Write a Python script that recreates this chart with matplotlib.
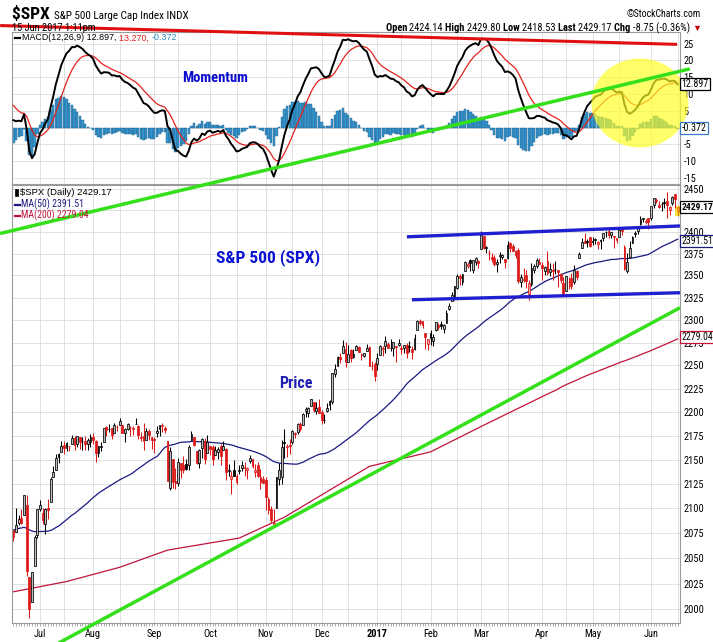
import numpy as np
import pandas as pd
import matplotlib
matplotlib.use("Agg")
import matplotlib.pyplot as plt
from matplotlib.patches import Rectangle, Ellipse
from matplotlib.lines import Line2D
from matplotlib.ticker import NullLocator

# ---------------- data ----------------
# closes before the visible window (Mar 1 - Jun 16 2016), only used to seed MACD / MA(50)
warmup_closes = [
    1978.35, 1986.45, 1993.40, 1999.99, 2001.76, 1979.26, 1989.26, 1989.57, 2022.19, 2019.64, 2015.93,
    2027.22, 2040.59, 2049.58, 2051.60, 2049.80, 2036.71, 2035.94, 2037.05, 2055.01, 2063.95, 2059.74,
    2072.78, 2066.13, 2045.17, 2066.66, 2041.91, 2047.60, 2041.99, 2061.72, 2082.42, 2082.78, 2080.73,
    2094.34, 2100.80, 2102.40, 2091.48, 2091.58, 2087.79, 2091.70, 2095.15, 2075.81, 2065.30,
    2081.43, 2063.37, 2051.12, 2050.63, 2057.14, 2058.69, 2084.39, 2064.46, 2064.11, 2046.61, 2066.66,
    2047.21, 2047.63, 2040.04, 2052.32, 2048.04, 2076.06, 2090.54, 2090.10, 2099.06, 2096.95,
    2099.33, 2105.26, 2099.13, 2109.41, 2112.13, 2119.12, 2115.48, 2096.07, 2079.06, 2075.32, 2071.50,
    2077.99,
]

# daily OHLC, 17 Jun 2016 .. 15 Jun 2017
opens = [
    2078.2, 2075.6, 2085.2, 2089.8, 2092.8, 2103.8, 2031.5, 2006.7, 2042.7, 2073.2,
    2099.3, 2095.1, 2084.4, 2100.4, 2106.9, 2131.7, 2139.5, 2155.8, 2157.9, 2165.1, 2162.0, 2163.8, 2166.1, 2172.9, 2166.5, 2173.7, 2168.9, 2169.8, 2166.1, 2168.8,
    2173.1, 2169.9, 2156.8, 2163.5, 2168.8, 2183.8, 2182.2, 2182.8, 2177.8, 2183.7, 2186.1, 2186.2, 2177.8, 2181.9, 2184.2, 2181.6, 2187.8, 2185.1, 2173.3, 2175.1, 2170.2, 2179.5, 2173.6,
    2171.3, 2177.5, 2181.6, 2185.2, 2182.8, 2169.1, 2120.9, 2150.5, 2127.9, 2125.4, 2146.5, 2144.0, 2145.9, 2144.6, 2170.9, 2173.3, 2158.5, 2146.0, 2161.9, 2168.9, 2156.5,
    2164.3, 2163.4, 2155.2, 2158.2, 2164.2, 2160.4, 2161.4, 2137.7, 2130.3, 2139.7, 2133.0, 2138.3, 2140.8, 2142.5, 2139.4, 2148.5, 2151.1, 2137.0, 2144.1, 2132.2, 2129.8,
    2128.7, 2109.4, 2098.8, 2083.8, 2100.6, 2129.9, 2131.6, 2167.6, 2162.7, 2165.6, 2168.3, 2177.5, 2178.6, 2186.9, 2186.4, 2201.6, 2198.6, 2206.3, 2210.2, 2200.8, 2205.0,
    2200.2, 2191.1, 2200.7, 2207.3, 2210.7, 2241.1, 2249.7, 2258.8, 2263.3, 2268.4, 2253.8, 2266.8, 2259.2, 2266.5, 2270.5, 2262.9, 2260.3, 2266.2, 2270.2, 2249.5, 2251.6,
    2251.6, 2261.6, 2268.2, 2271.1, 2273.6, 2269.0, 2268.6, 2271.1, 2272.7, 2269.1, 2269.1, 2271.9, 2270.0, 2267.8, 2267.9, 2288.9, 2298.6, 2299.0, 2286.0, 2274.0,
    2285.6, 2276.7, 2288.5, 2294.3, 2295.9, 2289.6, 2296.7, 2312.3, 2321.7, 2326.1, 2335.6, 2349.6, 2343.0, 2354.9, 2361.1, 2367.5, 2355.7, 2365.2, 2366.1,
    2380.1, 2394.8, 2380.9, 2375.2, 2370.7, 2369.8, 2363.5, 2372.5, 2371.6, 2368.6, 2370.3, 2387.7, 2383.7, 2378.2, 2379.3, 2343.0, 2345.1, 2350.4, 2329.1, 2339.8, 2356.5, 2361.3, 2364.8,
    2362.3, 2354.8, 2366.6, 2353.8, 2356.6, 2357.2, 2355.9, 2352.2, 2342.0, 2332.6, 2342.5, 2346.8, 2342.7, 2354.7, 2370.3, 2381.5, 2389.0, 2389.7, 2393.7,
    2388.5, 2391.1, 2386.5, 2389.8, 2392.4, 2399.9, 2401.6, 2396.8, 2394.8, 2392.4, 2394.0, 2405.4, 2383.0, 2354.7, 2371.4, 2387.2, 2397.0, 2401.4, 2409.5, 2414.5, 2411.7, 2415.6,
    2415.7, 2431.3, 2437.8, 2431.9, 2432.0, 2434.3, 2436.4, 2425.9, 2434.2, 2443.8, 2424.14,
]
highs = [
    2078.2, 2100.7, 2093.7, 2099.7, 2113.4, 2113.3, 2031.5, 2036.1, 2073.1, 2098.9,
    2108.7, 2100.7, 2100.1, 2109.1, 2131.7, 2143.2, 2155.4, 2156.5, 2168.9, 2169.1, 2168.4, 2164.6, 2175.6, 2174.6, 2175.1, 2173.7, 2173.5, 2174.9, 2172.9, 2177.1,
    2178.3, 2170.2, 2163.8, 2168.2, 2182.9, 2185.4, 2187.7, 2183.4, 2188.5, 2186.3, 2193.8, 2186.2, 2183.1, 2187.9, 2185.0, 2185.2, 2193.4, 2186.7, 2179.0, 2187.9, 2183.5, 2182.3, 2173.8,
    2173.6, 2184.9, 2186.6, 2187.9, 2184.9, 2169.1, 2163.3, 2150.5, 2141.3, 2151.3, 2146.5, 2153.6, 2150.8, 2165.1, 2180.0, 2173.8, 2158.5, 2161.1, 2172.4, 2172.7, 2175.3,
    2164.4, 2165.5, 2164.0, 2162.9, 2165.9, 2169.6, 2161.6, 2145.4, 2138.2, 2149.2, 2135.6, 2144.4, 2148.4, 2147.2, 2142.6, 2154.8, 2151.1, 2145.7, 2147.1, 2140.7, 2133.3,
    2131.5, 2111.8, 2102.6, 2099.1, 2132.0, 2146.9, 2170.1, 2182.3, 2165.9, 2171.4, 2180.8, 2179.2, 2188.1, 2189.9, 2198.7, 2204.8, 2204.8, 2213.4, 2211.1, 2210.5, 2214.1,
    2202.6, 2197.9, 2209.4, 2212.8, 2241.6, 2251.7, 2259.8, 2264.0, 2277.5, 2276.2, 2272.1, 2268.1, 2267.5, 2272.6, 2271.2, 2263.2, 2263.8, 2273.8, 2271.3, 2254.5, 2253.6,
    2263.9, 2272.8, 2271.5, 2282.1, 2275.5, 2279.3, 2275.5, 2271.8, 2278.7, 2272.1, 2272.0, 2274.3, 2277.0, 2271.8, 2284.6, 2299.6, 2301.0, 2299.0, 2286.0, 2279.1,
    2289.1, 2284.0, 2298.3, 2296.2, 2299.4, 2295.9, 2311.1, 2319.2, 2331.6, 2337.6, 2351.3, 2351.3, 2351.2, 2366.7, 2365.1, 2368.3, 2367.4, 2371.5, 2367.8,
    2401.0, 2394.8, 2383.9, 2378.8, 2375.1, 2373.1, 2369.1, 2376.9, 2374.4, 2368.6, 2390.0, 2388.1, 2385.7, 2379.6, 2381.9, 2351.8, 2358.9, 2356.2, 2344.9, 2363.8, 2363.4, 2370.4, 2370.4,
    2365.9, 2360.5, 2378.4, 2364.2, 2363.8, 2366.4, 2356.2, 2352.7, 2348.3, 2349.1, 2348.4, 2352.6, 2361.4, 2356.2, 2377.0, 2392.5, 2398.2, 2392.1, 2393.7,
    2394.5, 2392.9, 2389.8, 2391.4, 2399.3, 2401.4, 2403.9, 2399.7, 2395.7, 2392.4, 2404.1, 2405.8, 2384.9, 2375.7, 2389.1, 2395.5, 2400.9, 2405.6, 2418.7, 2416.7, 2415.3, 2416.0,
    2430.1, 2440.2, 2439.6, 2436.2, 2435.3, 2439.3, 2446.2, 2430.4, 2441.5, 2443.8, 2429.8,
]
lows = [
    2067.5, 2075.6, 2083.0, 2084.4, 2092.8, 2032.1, 1991.7, 2006.7, 2042.7, 2070.0,
    2097.5, 2084.3, 2074.0, 2089.4, 2106.9, 2131.7, 2139.5, 2146.2, 2157.9, 2155.8, 2159.3, 2159.0, 2166.1, 2159.8, 2163.2, 2161.1, 2160.2, 2159.6, 2159.7, 2163.5,
    2166.4, 2147.6, 2152.8, 2159.1, 2168.8, 2175.0, 2178.6, 2172.0, 2177.8, 2179.4, 2186.1, 2178.1, 2168.5, 2180.5, 2175.1, 2176.0, 2186.8, 2171.3, 2169.7, 2160.4, 2170.2, 2170.4, 2161.4,
    2157.1, 2173.6, 2175.1, 2179.1, 2177.5, 2127.8, 2119.1, 2120.3, 2119.9, 2122.4, 2131.2, 2135.9, 2139.2, 2139.6, 2170.9, 2164.0, 2145.0, 2141.6, 2151.8, 2145.2, 2156.5,
    2154.8, 2144.0, 2155.2, 2150.3, 2144.9, 2160.4, 2128.8, 2132.8, 2114.7, 2132.9, 2124.4, 2135.5, 2138.2, 2133.4, 2130.1, 2146.9, 2141.5, 2131.6, 2132.5, 2119.4, 2125.5,
    2097.9, 2094.0, 2085.2, 2083.8, 2100.6, 2123.6, 2125.3, 2151.2, 2152.5, 2156.1, 2166.4, 2172.2, 2176.6, 2180.4, 2186.4, 2194.5, 2194.5, 2206.3, 2200.4, 2198.1, 2198.8,
    2187.4, 2188.4, 2200.0, 2202.2, 2208.9, 2237.6, 2249.2, 2252.4, 2263.3, 2248.4, 2253.8, 2254.2, 2258.2, 2266.5, 2265.2, 2256.1, 2258.8, 2266.2, 2249.1, 2244.6, 2233.6,
    2245.1, 2261.6, 2260.5, 2264.1, 2268.9, 2265.3, 2260.8, 2254.3, 2271.5, 2262.8, 2263.4, 2258.4, 2265.0, 2257.0, 2266.7, 2288.9, 2294.1, 2291.6, 2268.0, 2267.2,
    2272.4, 2271.7, 2287.9, 2289.1, 2290.2, 2285.4, 2296.6, 2311.1, 2321.4, 2322.2, 2334.8, 2338.9, 2339.6, 2354.9, 2358.3, 2355.1, 2352.9, 2361.9, 2359.0,
    2380.1, 2380.2, 2375.4, 2368.0, 2365.5, 2361.0, 2354.5, 2364.0, 2368.5, 2358.2, 2368.9, 2377.2, 2377.6, 2369.7, 2341.9, 2336.5, 2342.1, 2335.7, 2322.3, 2337.6, 2353.3, 2358.6, 2362.6,
    2344.7, 2350.7, 2350.5, 2348.9, 2344.7, 2351.5, 2337.3, 2341.2, 2328.9, 2332.5, 2334.5, 2335.1, 2340.9, 2344.5, 2370.3, 2381.2, 2386.8, 2382.4, 2382.4,
    2384.8, 2385.8, 2379.8, 2380.4, 2389.4, 2393.6, 2392.4, 2392.8, 2381.7, 2387.2, 2393.9, 2396.1, 2356.2, 2352.7, 2370.4, 2386.9, 2393.9, 2398.0, 2408.0, 2411.7, 2409.4, 2403.6,
    2413.5, 2427.7, 2434.3, 2428.1, 2424.8, 2427.4, 2415.7, 2420.0, 2431.3, 2428.3, 2418.53,
]
closes = [
    2071.22, 2083.25, 2088.90, 2085.45, 2113.32, 2037.41, 2000.54, 2036.09, 2070.77, 2098.86,
    2102.95, 2088.55, 2099.73, 2097.90, 2129.90, 2137.16, 2152.14, 2152.43, 2163.75, 2161.74, 2166.89, 2163.78, 2173.02, 2165.17, 2175.03, 2168.48, 2169.18, 2166.58, 2170.06, 2173.60,
    2170.84, 2157.03, 2163.79, 2164.25, 2182.87, 2180.89, 2181.74, 2175.49, 2185.79, 2184.05, 2190.15, 2178.15, 2182.22, 2187.02, 2183.87, 2182.64, 2186.90, 2175.44, 2172.47, 2169.04, 2180.38, 2176.12, 2170.95,
    2170.86, 2179.98, 2186.48, 2186.16, 2181.30, 2127.81, 2159.04, 2127.02, 2125.77, 2147.26, 2139.16, 2139.12, 2139.76, 2163.12, 2177.18, 2164.69, 2146.10, 2159.93, 2171.37, 2151.13, 2168.27,
    2161.20, 2150.49, 2159.73, 2160.77, 2153.74, 2163.66, 2136.73, 2139.18, 2132.55, 2132.98, 2126.50, 2139.60, 2144.29, 2141.34, 2141.16, 2151.33, 2143.16, 2139.43, 2133.04, 2126.41, 2126.15,
    2111.72, 2097.94, 2088.66, 2085.18, 2131.52, 2139.56, 2163.26, 2167.48, 2164.45, 2164.20, 2180.39, 2176.94, 2187.12, 2181.90, 2198.18, 2202.94, 2204.72, 2213.35, 2201.72, 2204.66, 2198.81,
    2191.08, 2191.95, 2204.71, 2212.23, 2241.35, 2246.19, 2259.53, 2256.96, 2271.72, 2253.28, 2262.03, 2258.07, 2262.53, 2270.76, 2265.18, 2260.96, 2263.79, 2268.88, 2249.92, 2249.26, 2238.83,
    2257.83, 2270.75, 2269.00, 2276.98, 2268.90, 2268.90, 2275.32, 2270.44, 2274.64, 2267.89, 2271.89, 2263.69, 2271.31, 2265.20, 2280.07, 2298.37, 2296.68, 2294.69, 2280.90, 2278.87,
    2279.55, 2280.85, 2297.42, 2292.56, 2293.08, 2294.67, 2307.87, 2316.10, 2328.25, 2337.58, 2349.25, 2347.22, 2351.16, 2365.38, 2362.82, 2363.81, 2367.34, 2369.75, 2363.64,
    2395.96, 2381.92, 2383.12, 2375.31, 2368.39, 2362.98, 2364.87, 2372.60, 2373.47, 2365.45, 2385.26, 2381.38, 2378.25, 2373.47, 2344.02, 2348.45, 2345.96, 2343.98, 2341.59, 2358.57, 2361.13, 2368.06, 2362.72,
    2358.84, 2360.16, 2352.95, 2357.49, 2355.54, 2357.16, 2353.78, 2344.93, 2328.95, 2349.01, 2342.19, 2338.17, 2355.84, 2348.69, 2374.15, 2388.61, 2387.45, 2388.77, 2384.20,
    2388.33, 2391.17, 2388.13, 2389.52, 2399.29, 2399.38, 2396.92, 2399.63, 2394.44, 2390.90, 2402.32, 2400.67, 2357.03, 2365.72, 2381.73, 2394.02, 2398.42, 2404.39, 2415.07, 2415.82, 2412.91, 2411.80,
    2430.06, 2439.07, 2436.10, 2429.33, 2433.14, 2433.79, 2431.77, 2429.39, 2440.35, 2437.92, 2429.17,
]

# MA(200) (trading-day index, value); from index 199 on it is computed
ma200_idx = [0, 20, 40, 58, 85, 102, 134, 157, 177]
ma200_val = [2017, 2027, 2041, 2058, 2070, 2091, 2143, 2158, 2186]

holidays = ["2016-07-04", "2016-09-05", "2016-11-24", "2016-12-26", "2017-01-02",
            "2017-01-16", "2017-02-20", "2017-04-14", "2017-05-29"]
dates = pd.bdate_range("2016-06-17", "2017-06-15")
dates = dates[~dates.isin(pd.to_datetime(holidays))]

N = len(closes)
assert len(opens) == len(highs) == len(lows) == N == len(dates)

# indicators
allc = pd.Series(warmup_closes + closes)
ema12 = allc.ewm(span=12, adjust=False).mean()
ema26 = allc.ewm(span=26, adjust=False).mean()
macd_all = ema12 - ema26
sig_all = macd_all.ewm(span=9, adjust=False).mean()
W0 = len(warmup_closes)
macd = macd_all.values[W0:]
signal = sig_all.values[W0:]
hist = macd - signal
ma50 = allc.rolling(50).mean().values[W0:]
ma200_calc = pd.Series(closes).rolling(200).mean()
ma200_x = list(ma200_idx) + list(range(199, N))
ma200_y = list(ma200_val) + list(ma200_calc.values[199:])

# ---------------- figure ----------------
W, H = 713, 642
fig = plt.figure(figsize=(W / 100, H / 100), dpi=100)
fig.patch.set_facecolor("white")


def fx(px):
    return px / W


def fy(py):
    return 1 - py / H


NARROW = ["Liberation Sans Narrow", "Arial Narrow", "Roboto Condensed", "Archivo Narrow",
          "PT Sans Narrow", "Liberation Sans", "DejaVu Sans"]
PLAIN = ["Liberation Sans", "DejaVu Sans"]
GRID = "#dcdcdc"
FRAME = "#9a9a9a"

ax1 = fig.add_axes([fx(12), fy(184), (680 - 12) / W, (184 - 32) / H])
ax2 = fig.add_axes([fx(12), fy(623), (680 - 12) / W, (623 - 185) / H])
x = np.arange(N)
for ax in (ax1, ax2):
    ax.set_xlim(-0.53, 250.9)
    for s in ax.spines.values():
        s.set_color(FRAME)
        s.set_linewidth(0.8)

# vertical grid at month starts and mid-months
month_first = []
grid_idx = []
ser = pd.Series(np.arange(N), index=dates)
for per in pd.period_range("2016-07", "2017-06", freq="M"):
    d1 = per.start_time
    d15 = d1 + pd.Timedelta(days=14)
    i1 = int(ser[ser.index >= d1].iloc[0])
    month_first.append(i1)
    grid_idx.append(i1)
    sub = ser[ser.index >= d15]
    if len(sub):
        grid_idx.append(int(sub.iloc[0]))
for ax in (ax1, ax2):
    for gi in grid_idx:
        ax.axvline(gi, color=GRID, lw=0.6, zorder=0)

# ---- MACD panel ----
ax1.set_ylim(-16.76, 28.48)
mticks = [-15, -10, -5, 0, 5, 10, 15, 20, 25]
ax1.set_yticks(mticks)
ax1.set_yticklabels([str(t) for t in mticks])
for t in mticks:
    ax1.axhline(t, color=GRID, lw=0.6, zorder=0)
ax1.bar(x, hist, width=0.9, color="#3896cc", edgecolor="#1d5c8c", linewidth=0.3, zorder=2)
ax1.plot(x, signal, color="#e3221c", lw=0.9, zorder=3)
ax1.plot(x, macd, color="black", lw=1.4, zorder=4)
ax1.set_xticks([])

# ---- price panel ----
ax2.set_yscale("log")
ax2.set_ylim(1986.8, 2455.0)
pticks = list(range(2000, 2451, 25))
ax2.set_yticks(pticks)
ax2.set_yticklabels([str(t) for t in pticks])
ax2.yaxis.set_minor_locator(NullLocator())
for t in pticks:
    ax2.axhline(t, color=GRID, lw=0.6, zorder=0)

for ax in (ax1, ax2):
    ax.yaxis.tick_right()
    ax.tick_params(axis="y", length=0, pad=2.5, labelsize=7.5)
    for lb in ax.get_yticklabels():
        lb.set_family(NARROW)

RED = "#dd1a1a"
prev = [warmup_closes[-1]] + closes[:-1]
bw = 0.68
# latest bar is highlighted
ax2.add_patch(Rectangle((N - 1 - 0.9, lows[-1]), 1.8, highs[-1] - lows[-1],
                        facecolor="#ffe640", edgecolor="none", zorder=2))
for i in range(N):
    o, h, l, c = opens[i], highs[i], lows[i], closes[i]
    col = "black" if c >= prev[i] else RED
    hollow = c > o
    fill = ("#bdbdbd" if col == "black" else "#f09a9a") if hollow else col
    if i == N - 1:
        col, fill = "#e07800", "#ffa020"
    ax2.vlines(i, min(l, o, c), max(h, o, c), color=col, lw=0.75, zorder=3)
    lo, hi = min(o, c), max(o, c)
    if hi - lo < 0.6:
        hi = lo + 0.6
    ax2.add_patch(Rectangle((i - bw / 2, lo), bw, hi - lo, facecolor=fill,
                            edgecolor=col, lw=0.55, zorder=4))

ax2.plot(x, ma50, color="#1a1a80", lw=0.9, zorder=2)
ax2.plot(ma200_x, ma200_y, color="#c0143c", lw=0.9, zorder=2)

# month labels and daily ticks
mlabels = []
for i in month_first:
    d = dates[i]
    mlabels.append("2017" if d.month == 1 else d.strftime("%b"))
ax2.set_xticks(month_first)
ax2.set_xticklabels(mlabels)
ax2.tick_params(axis="x", length=0, pad=4, labelsize=7.5)
for lb in ax2.get_xticklabels():
    lb.set_family(NARROW)
    if lb.get_text() == "2017":
        lb.set_weight("bold")
ax2.vlines(x, 0, -0.006, transform=ax2.get_xaxis_transform(), color="#8a8a8a",
           lw=0.5, clip_on=False)

# ---------------- annotations ----------------
# yellow highlight on the latest MACD swing
fig.add_artist(Ellipse((235.8, 7.35), 36.5, 26.5, transform=ax1.transData,
                       facecolor="#ffff22", edgecolor="none", alpha=0.68, zorder=2))

# trend lines (trading-day index, value)
red_tl = ([-5.0, 249.8], [30.4, 24.8])
green_macd_tl = ([-5.0, 254.6], [-31.5, 17.5])
blue_top = ([148.1, 250.9], [2394.3, 2406.9])
blue_bot = ([150.0, 250.9], [2322.6, 2330.5])
green_price_tl = ([16.4, 250.9], [1966.8, 2313.7])
fig.add_artist(Line2D(*red_tl, transform=ax1.transData, color="#e01010", lw=2.2,
                      solid_capstyle="butt", zorder=3))
fig.add_artist(Line2D(*green_macd_tl, transform=ax1.transData, color="#33e01a", lw=2.5,
                      solid_capstyle="butt", zorder=3))
fig.add_artist(Line2D(*blue_top, transform=ax2.transData, color="#1f1fd0", lw=2.4,
                      solid_capstyle="butt", zorder=3))
fig.add_artist(Line2D(*blue_bot, transform=ax2.transData, color="#1f1fd0", lw=2.4,
                      solid_capstyle="butt", zorder=3))
fig.add_artist(Line2D(*green_price_tl, transform=ax2.transData, color="#33e01a", lw=2.5,
                      solid_capstyle="butt", zorder=3))

fig.text(fx(215), fy(78), "Momentum", color="#0a0acc", fontsize=10.5, weight="bold",
         family=NARROW, ha="center", va="center")
fig.text(fx(268), fy(258), "S&P 500 (SPX)", color="#0a14d2", fontsize=12.5, weight="bold",
         family=NARROW, ha="center", va="center")
fig.text(fx(296), fy(383), "Price", color="#1f1fb4", fontsize=11.5, weight="bold",
         family=NARROW, ha="center", va="center")

# ---------------- header & legends ----------------
renderer = fig.canvas.get_renderer()


def put_row(x0, y0, pieces, family, ha="left"):
    objs = []
    cur = x0
    for s, col, wt, size in pieces:
        t = fig.text(fx(cur), fy(y0), s, color=col, fontsize=size, family=family,
                     weight=wt, ha="left", va="baseline", zorder=6)
        cur += t.get_window_extent(renderer).width
        objs.append(t)
    if ha == "right":
        shift = (cur - x0) / W
        for t in objs:
            px, py = t.get_position()
            t.set_position((px - shift, py))


put_row(12, 19, [("$SPX ", "black", "bold", 12.5),
                 ("S&P 500 Large Cap Index INDX", "black", "normal", 8)], NARROW)
fig.text(fx(12), fy(28), "15 Jun 2017 1:11pm", fontsize=7.5, family=NARROW, va="center")
fig.text(fx(701), fy(14), "\u00a9StockCharts.com", fontsize=7, family=NARROW,
         ha="right", va="center")
put_row(701, 31, [("Open ", "black", "bold", 7.5), ("2424.14 ", "black", "normal", 7.5),
                  ("High ", "black", "bold", 7.5), ("2429.80 ", "black", "normal", 7.5),
                  ("Low ", "black", "bold", 7.5), ("2418.53 ", "black", "normal", 7.5),
                  ("Last ", "black", "bold", 7.5), ("2429.17 ", "black", "normal", 7.5),
                  ("Chg ", "black", "bold", 7.5), ("-8.75 (-0.36%) ", "black", "normal", 7.5),
                  ("\u25bc", "#c00000", "normal", 6.5)], NARROW, ha="right")

fig.add_artist(Line2D([fx(15), fx(20)], [fy(38), fy(38)], color="black", lw=1.6))
put_row(22, 40.5, [("MACD(12,26,9) 12.897, ", "black", "normal", 6.4),
                   ("13.270, ", "#e3221c", "normal", 6.4),
                   ("-0.372", "#2a8ac8", "normal", 6.4)], PLAIN)

fig.add_artist(Rectangle((fx(15), fy(196)), 3 / W, 7 / H, transform=fig.transFigure,
                         facecolor="black", edgecolor="black", lw=0.5))
put_row(20, 195, [("$SPX (Daily) 2429.17", "black", "normal", 6.8)], PLAIN)
fig.add_artist(Line2D([fx(15), fx(20)], [fy(205), fy(205)], color="#1a1a80", lw=1.6))
put_row(21, 207.5, [("MA(50) 2391.51", "#1a1a80", "normal", 7)], NARROW)
fig.add_artist(Line2D([fx(15), fx(20)], [fy(215.5), fy(215.5)], color="#c0143c", lw=1.6))
put_row(21, 218, [("MA(200) 2279.04", "#c0143c", "normal", 7)], NARROW)

# value tags on the right axis (they sit over the axis labels, as on the original)
tags = [(84, "12.897", "black", "normal", 7.2), (128, "-0.372", "#3a78c8", "normal", 7.2),
        (207, "2429.17", "black", "bold", 6.8), (241, "2391.51", "#1a1a80", "normal", 7.0),
        (337, "2279.04", "#c0143c", "normal", 7.0)]
for ty, s, col, wt, fs in tags:
    fig.text(fx(681.5), fy(ty), s, fontsize=fs, family=NARROW, weight=wt, color="black",
             ha="left", va="center", zorder=7,
             bbox=dict(boxstyle="square,pad=0.12", facecolor="white", edgecolor=col, lw=0.9))

fig.savefig("out.png", dpi=100)
